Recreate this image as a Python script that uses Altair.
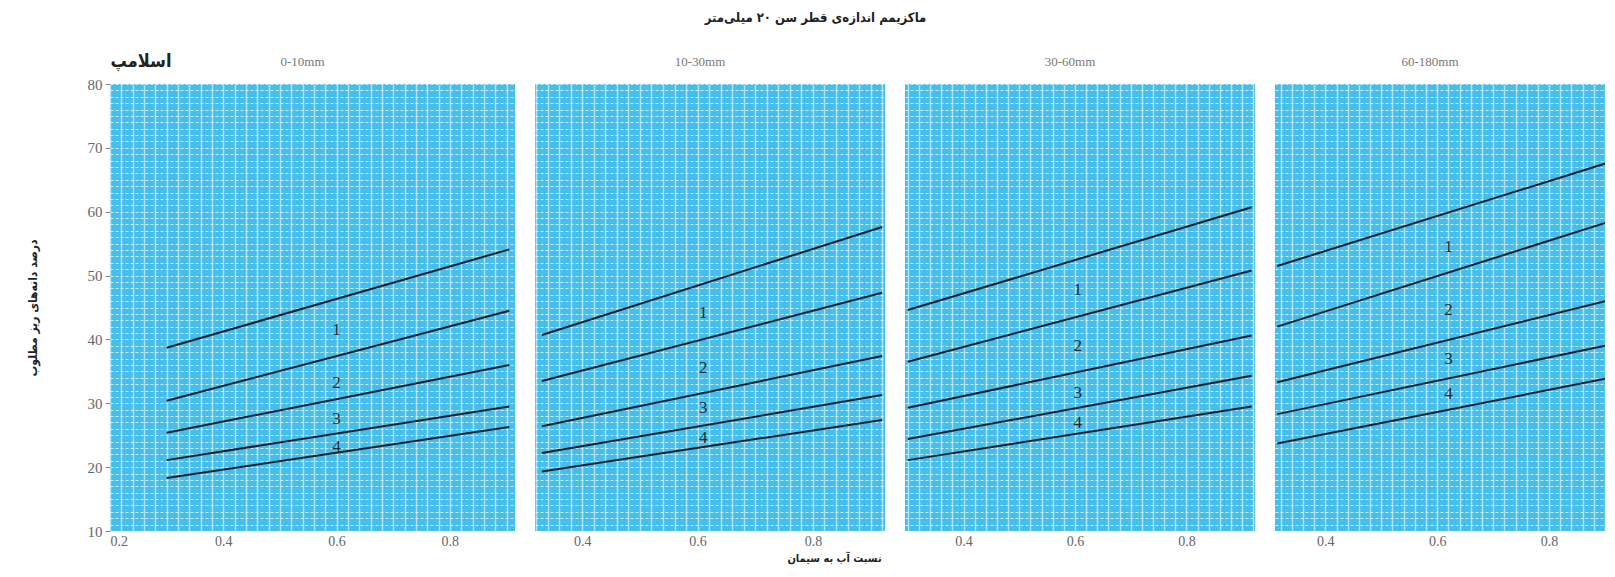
import altair as alt
import pandas as pd

# ---------------- data ----------------
panel_names = ["0-10mm", "10-30mm", "30-60mm", "60-180mm"]
curve_ids = [1, 2, 3, 4, 5]

# x (water/cement ratio) where every curve starts / ends in each panel
x_start = [0.30, 0.33, 0.30, 0.314]
x_end = [0.905, 0.92, 0.917, 0.91]

# y (percent fines) at start / end of the five curves, per panel
y_start = [
    [38.7, 30.4, 25.4, 21.1, 18.3],
    [40.7, 33.5, 26.4, 22.2, 19.3],
    [44.6, 36.5, 29.3, 24.4, 21.1],
    [51.5, 42.0, 33.3, 28.3, 23.7],
]
y_end = [
    [54.1, 44.5, 36.0, 29.5, 26.3],
    [57.6, 47.3, 37.4, 31.3, 27.4],
    [60.7, 50.8, 40.6, 34.3, 29.5],
    [67.8, 58.5, 46.2, 39.2, 34.0],
]

# slump-class labels placed between the curves
label_text = ["1", "2", "3", "4"]
label_x = [0.60, 0.61, 0.605, 0.62]
label_y = [
    [41.5, 33.2, 27.5, 23.1],
    [44.2, 35.5, 29.3, 24.5],
    [47.7, 39.0, 31.6, 26.9],
    [54.4, 44.6, 36.9, 31.4],
]

main_title = "ماکزیمم اندازه‌ی قطر سن ۲۰ میلی‌متر"
y_title = "درصد دانه‌های ریز مطلوب"
x_title = "نسبت آب به سیمان"
slump_title = "اسلامپ"

# ---------------- layout / style ----------------
x_domains = [[0.2, 0.915], [0.318, 0.925], [0.295, 0.923], [0.31, 0.90]]
panel_widths = [405, 350, 350, 330]
PLOT_H = 447
grid_x = [round(0.2 + 0.02 * i, 2) for i in range(38)]
grid_y = list(range(10, 81))

PERSIAN_FONT = "DejaVu Sans Condensed, DejaVu Sans"
NUM_FONT = "Liberation Serif"
LINE_COLOR = "#17212e"


def make_panel(i):
    lines_df = pd.DataFrame({
        "x": [x_start[i]] * 5 + [x_end[i]] * 5,
        "y": y_start[i] + y_end[i],
        "curve": curve_ids + curve_ids,
    })
    labels_df = pd.DataFrame({"x": [label_x[i]] * 4, "y": label_y[i], "t": label_text})
    head_df = pd.DataFrame({"t": [panel_names[i]]})
    slump_df = pd.DataFrame({"t": [slump_title]})

    lo, hi = x_domains[i]
    gx = [v for v in grid_x if lo - 1e-9 <= v <= hi + 1e-9]
    w = panel_widths[i]

    xscale = alt.Scale(domain=[lo, hi], nice=False, zero=False)
    yscale = alt.Scale(domain=[10, 80], nice=False, zero=False)

    x_axis_kw = dict(
        values=gx,
        tickCount=500,
        labelExpr="abs(datum.value * 5 - round(datum.value * 5)) < 0.001 ? format(datum.value, '.1f') : ''",
        labelOverlap=False,
        labelFlush=(i == 0),
        ticks=False,
        domain=False,
        grid=True,
        labelFont=NUM_FONT,
        labelFontSize=14,
        labelColor="#666666",
        labelPadding=3,
    )
    if i == 1:
        x_axis_kw.update(
            title=x_title,
            titleX=299,
            titleFont=PERSIAN_FONT,
            titleFontSize=11,
            titleFontWeight="bold",
            titleColor="#222222",
            titlePadding=4,
        )
        x_enc = alt.X("x:Q", scale=xscale, axis=alt.Axis(**x_axis_kw))
    else:
        x_enc = alt.X("x:Q", scale=xscale, axis=alt.Axis(**x_axis_kw), title=None)

    if i == 0:
        y_axis = alt.Axis(
            values=grid_y,
            tickCount=500,
            labelExpr="datum.value % 10 === 0 ? format(datum.value, 'd') : ''",
            labelOverlap=False,
            tickSize=5,
            tickColor="#888888",
            tickOpacity={"condition": {"test": "datum.value % 10 === 0", "value": 1}, "value": 0},
            domain=False,
            grid=True,
            labelFont=NUM_FONT,
            labelFontSize=15,
            labelColor="#666666",
            labelPadding=3,
            title=y_title,
            titleFont=PERSIAN_FONT,
            titleFontSize=12,
            titleFontWeight="bold",
            titleColor="#222222",
            titlePadding=48,
        )
        y_enc = alt.Y("y:Q", scale=yscale, axis=y_axis)
    else:
        y_axis = alt.Axis(values=grid_y, tickCount=500, labels=False, ticks=False,
                          domain=False, grid=True)
        y_enc = alt.Y("y:Q", scale=yscale, axis=y_axis, title=None)

    lines = alt.Chart(lines_df).mark_line(
        color=LINE_COLOR, strokeWidth=2, clip=True
    ).encode(x=x_enc, y=y_enc, detail="curve:N")

    labels = alt.Chart(labels_df).mark_text(
        font=NUM_FONT, fontSize=17, color="#2a2a2a"
    ).encode(x="x:Q", y="y:Q", text="t:N")

    head = alt.Chart(head_df).mark_text(
        font=NUM_FONT, fontSize=13, color="#777777"
    ).encode(x=alt.value(w / 2 - 10), y=alt.value(-22), text="t:N")

    slump = alt.Chart(slump_df).mark_text(
        font=PERSIAN_FONT, fontSize=18, fontWeight="bold", color="#222222",
        opacity=1 if i == 0 else 0,
    ).encode(x=alt.value(31), y=alt.value(-22), text="t:N")

    return alt.layer(lines, labels, head, slump).properties(width=w, height=PLOT_H)


panels = [make_panel(i) for i in range(4)]

chart = (
    alt.hconcat(*panels, spacing=20)
    .properties(
        title=alt.TitleParams(
            main_title, font=PERSIAN_FONT, fontSize=13, fontWeight="bold",
            anchor="middle", offset=28, color="#222222",
        ),
        padding={"left": 18, "top": 4, "right": 0, "bottom": 6},
    )
    .configure_view(stroke=None, fill="#45BEEB")
    .configure_axisX(gridColor="white", gridOpacity=0.55, gridWidth=1.5)
    .configure_axisY(gridColor="white", gridOpacity=0.7, gridWidth=1.2, gridDash=[3, 2])
)

chart.save("out.html", embed_options={"renderer": "svg", "actions": False})
